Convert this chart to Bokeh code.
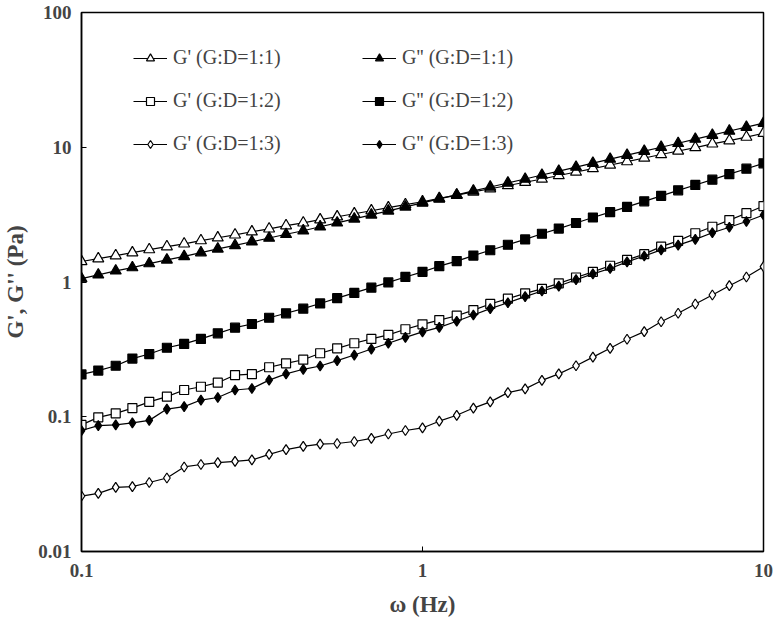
from bokeh.plotting import figure
from bokeh.models import FixedTicker, Legend, LegendItem
from bokeh.embed import file_html
from bokeh.resources import INLINE

freq = [0.1, 0.112, 0.126, 0.141, 0.158, 0.178, 0.2, 0.224, 0.251, 0.282,
        0.316, 0.355, 0.398, 0.447, 0.501, 0.562, 0.631, 0.708, 0.794, 0.891,
        1.0, 1.12, 1.26, 1.41, 1.58, 1.78, 2.0, 2.24, 2.51, 2.82,
        3.16, 3.55, 3.98, 4.47, 5.01, 5.62, 6.31, 7.08, 7.94, 8.91, 10.0]

g1_storage = [1.42, 1.49, 1.57, 1.65, 1.74, 1.83, 1.92, 2.03, 2.13, 2.24,
              2.36, 2.48, 2.62, 2.75, 2.90, 3.05, 3.21, 3.38, 3.56, 3.75,
              3.94, 4.17, 4.41, 4.66, 4.92, 5.20, 5.50, 5.81, 6.17, 6.55,
              6.95, 7.38, 7.83, 8.32, 8.83, 9.38, 9.95, 10.6, 11.2, 11.9, 12.7]
g1_loss = [1.06, 1.13, 1.21, 1.28, 1.37, 1.46, 1.55, 1.65, 1.76, 1.87,
           1.99, 2.12, 2.26, 2.40, 2.57, 2.75, 2.94, 3.15, 3.37, 3.61,
           3.86, 4.14, 4.43, 4.74, 5.07, 5.43, 5.81, 6.22, 6.65, 7.13,
           7.62, 8.17, 8.73, 9.35, 10.0, 10.7, 11.5, 12.3, 13.2, 14.1, 15.1]
g2_storage = [0.087, 0.099, 0.106, 0.116, 0.129, 0.141, 0.158, 0.167, 0.179, 0.204,
              0.207, 0.233, 0.249, 0.265, 0.296, 0.322, 0.351, 0.378, 0.405, 0.446,
              0.485, 0.522, 0.562, 0.619, 0.687, 0.752, 0.824, 0.890, 0.977, 1.08,
              1.19, 1.32, 1.46, 1.61, 1.83, 2.02, 2.30, 2.57, 2.88, 3.24, 3.66]
g2_loss = [0.206, 0.220, 0.239, 0.270, 0.292, 0.325, 0.347, 0.378, 0.416, 0.458,
           0.488, 0.543, 0.586, 0.634, 0.693, 0.759, 0.830, 0.908, 0.993, 1.09,
           1.19, 1.31, 1.43, 1.57, 1.72, 1.89, 2.07, 2.28, 2.49, 2.74,
           3.01, 3.30, 3.61, 3.97, 4.36, 4.79, 5.25, 5.75, 6.31, 6.93, 7.60]
g3_storage = [0.0258, 0.0270, 0.0299, 0.0303, 0.0325, 0.0351, 0.0424, 0.0442, 0.0457, 0.0467,
              0.0478, 0.0526, 0.0571, 0.0602, 0.0626, 0.0633, 0.0655, 0.0692, 0.0745, 0.0791,
              0.0826, 0.0927, 0.1025, 0.116, 0.129, 0.151, 0.161, 0.186, 0.208, 0.239,
              0.277, 0.322, 0.376, 0.428, 0.507, 0.586, 0.687, 0.801, 0.939, 1.089, 1.299]
g3_loss = [0.079, 0.086, 0.087, 0.090, 0.094, 0.114, 0.119, 0.133, 0.139, 0.158,
           0.162, 0.187, 0.208, 0.225, 0.238, 0.261, 0.287, 0.318, 0.351, 0.388,
           0.426, 0.461, 0.511, 0.569, 0.634, 0.701, 0.778, 0.857, 0.933, 1.04,
           1.15, 1.26, 1.41, 1.56, 1.73, 1.88, 2.07, 2.32, 2.55, 2.81, 3.14]

labels = ["G' (G:D=1:1)", "G'' (G:D=1:1)", "G' (G:D=1:2)",
          "G'' (G:D=1:2)", "G' (G:D=1:3)", "G'' (G:D=1:3)"]
x_ticks = [0.1, 1, 10]
y_ticks = [0.01, 0.1, 1, 10, 100]

p = figure(width=776, height=620, x_axis_type="log", y_axis_type="log",
           x_range=(0.1, 10), y_range=(0.01, 100),
           output_backend="svg", toolbar_location=None,
           min_border_left=79, min_border_right=13, min_border_top=12, min_border_bottom=69)
p.grid.visible = False
p.outline_line_color = "black"
p.outline_line_width = 1.5

series = [
    (g1_storage, "triangle", "white", 11),
    (g1_loss, "triangle", "black", 11),
    (g2_storage, "square", "white", 9),
    (g2_loss, "square", "black", 9),
    (g3_storage, "diamond", "white", 10),
    (g3_loss, "diamond", "black", 10),
]
renderers = []
for ys, mk, fill, sz in series:
    l = p.line(freq, ys, line_color="black", line_width=1.2)
    s = p.scatter(freq, ys, marker=mk, size=sz, fill_color=fill,
                  line_color="black", line_width=1.2)
    renderers.append([l, s])

order = [0, 2, 4, 1, 3, 5]
items = [LegendItem(label=labels[i], renderers=renderers[i]) for i in order]
legend = Legend(items=items, ncols=2, location=(52, 396),
                glyph_width=34, glyph_height=20, label_standoff=6,
                label_width=169, label_height=20, spacing=20, padding=0,
                border_line_color=None, background_fill_alpha=0,
                label_text_font="Liberation Serif", label_text_font_size="20px")
p.add_layout(legend, "center")

for ax, ticks in ((p.xaxis[0], x_ticks), (p.yaxis[0], y_ticks)):
    ax.ticker = FixedTicker(ticks=ticks)
    ax.major_label_overrides = {t: str(t) for t in ticks}
    ax.minor_tick_line_color = None
    ax.major_tick_in = 5
    ax.major_tick_out = 0
    ax.axis_line_width = 1.5
    ax.major_label_text_font = "Liberation Serif"
    ax.major_label_text_font_style = "bold"
    ax.major_label_text_font_size = "19px"
    ax.axis_label_text_font = "Liberation Serif"
    ax.axis_label_text_font_style = "bold"
    ax.axis_label_text_font_size = "23px"

p.xaxis.axis_label = "ω (Hz)"
p.yaxis.axis_label = "G', G'' (Pa)"
p.xaxis.major_label_standoff = 12
p.yaxis.major_label_standoff = 10
p.xaxis.axis_label_standoff = 12
p.yaxis.axis_label_standoff = 7

open("out.html", "w").write(file_html(p, INLINE))
